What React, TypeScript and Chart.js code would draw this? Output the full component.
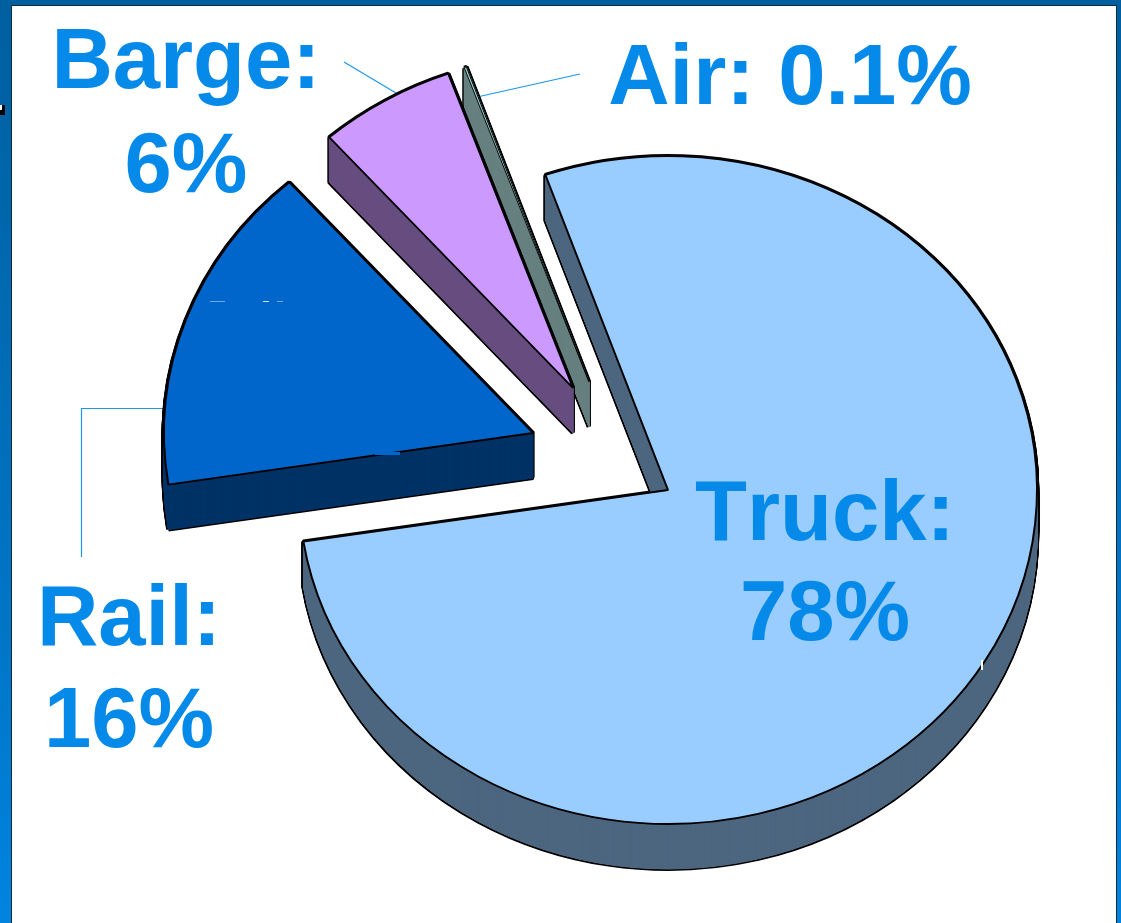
import React, { useEffect, useRef } from "react";
import { Chart, registerables } from "chart.js";

Chart.register(...registerables);

const categories = ["Truck", "Rail", "Barge", "Air"];
const shares = [78, 16, 6, 0.1];
const faceColors = ["#99ccff", "#0066cc", "#cc99ff", "#99cccc"];
const wallColors = ["#4d6680", "#003366", "#664d80", "#668080"];
const labelLines = [
  { lines: ["Truck:", "78%"], x: 825, y: [540, 640] },
  { lines: ["Rail:", "16%"], x: 129, y: [645, 747] },
  { lines: ["Barge:", "6%"], x: 186, y: [88, 192] },
  { lines: ["Air: 0.1%"], x: 790, y: [104] },
];

// layout of the exploded pie
const explodeX = [56, -79, -39, -23];
const explodeY = [30, -27, -72, -78];
const faceBorder = [2, 2, 2, 1];
const drawOrder = [3, 2, 1, 0];
const SQUASH = 0.905;
const DEPTH = 45;
const RADIUS = 369;
const leaders = [
  [[344, 62], [401, 96]],
  [[580, 74], [477, 97]],
  [[166, 408.5], [81.5, 408.5], [81.5, 557]],
];
// small blemishes of the source image: x, y, w, h, colour
const blemishes: [number, number, number, number, string][] = [
  [210, 301, 15, 1, "#6aa8ea"],
  [263, 301, 6, 1, "#cfe4fa"],
  [277, 301, 6, 1, "#6aa8ea"],
  [375, 452, 25, 3, "#0066cc"],
  [981, 660, 2, 10, "#ffffff"],
];

const pie3d = {
  id: "pie3d",
  beforeDraw(chart: any) {
    const { ctx, width, height } = chart;
    ctx.save();
    const g = ctx.createLinearGradient(0, 0, 0, height);
    g.addColorStop(0, "#005f9f");
    g.addColorStop(0.3, "#0069b0");
    g.addColorStop(0.7, "#0076c8");
    g.addColorStop(1, "#0084e0");
    ctx.fillStyle = g;
    ctx.fillRect(0, 0, width, height);
    ctx.fillStyle = "#12293d";
    ctx.fillRect(11, 5, 1106, height);
    ctx.fillStyle = "#ffffff";
    ctx.fillRect(12, 6, 1104, height);
    ctx.fillStyle = "#000000";
    ctx.fillRect(0, 105, 5, 10);
    ctx.fillStyle = "#ffffff";
    ctx.fillRect(0, 105, 2, 5);
    ctx.strokeStyle = "#1a98ee";
    ctx.lineWidth = 1.2;
    for (const pts of leaders) {
      ctx.beginPath();
      pts.forEach((p, i) => (i ? ctx.lineTo(p[0], p[1]) : ctx.moveTo(p[0], p[1])));
      ctx.stroke();
    }
    ctx.restore();
  },
  beforeDatasetDraw(chart: any) {
    const { ctx } = chart;
    const meta = chart.getDatasetMeta(0);
    const paint = (i: number, lift: number, fill: string, stroke: string, bw: number) => {
      const el = meta.data[i];
      const orig = el.options;
      const o = Object.create(orig);
      Object.defineProperties(o, {
        backgroundColor: { value: fill },
        borderColor: { value: stroke },
        borderWidth: { value: bw },
      });
      el.options = o;
      ctx.save();
      ctx.translate(el.x + explodeX[i], el.y + explodeY[i] + lift);
      ctx.scale(1, SQUASH);
      ctx.translate(-el.x, -el.y);
      el.draw(ctx);
      ctx.restore();
      el.options = orig;
    };
    for (const i of drawOrder) {
      for (let d = DEPTH; d >= 0; d -= 1) paint(i, d, wallColors[i], "#000000", 4.5);
      for (let d = DEPTH; d >= 0; d -= 0.25) paint(i, d, wallColors[i], wallColors[i], 1);
      paint(i, 0, faceColors[i], "#000000", faceBorder[i]);
    }
    return false;
  },
  afterDraw(chart: any) {
    const { ctx } = chart;
    ctx.save();
    for (const [x, y, w, h, c] of blemishes) {
      ctx.fillStyle = c;
      ctx.fillRect(x, y, w, h);
    }
    ctx.fillStyle = "#058aea";
    ctx.font = 'bold 85px "Liberation Sans", Arial, sans-serif';
    ctx.fontKerning = "none";
    ctx.textAlign = "center";
    ctx.textBaseline = "alphabetic";
    for (const l of labelLines) {
      l.lines.forEach((t, i) => ctx.fillText(t, l.x, l.y[i]));
    }
    ctx.restore();
  },
};

export default function App() {
  const ref = useRef<HTMLCanvasElement>(null);
  useEffect(() => {
    document.body.style.margin = "0";
    const chart = new Chart(ref.current as any, {
      type: "pie",
      data: {
        labels: categories,
        datasets: [{ data: shares, backgroundColor: faceColors, borderColor: "#000000", borderWidth: 2 }],
      },
      options: {
        responsive: false,
        animation: false,
        radius: RADIUS,
        rotation: -19.4,
        layout: { padding: { left: 242, right: 139, top: 90, bottom: 93 } },
        plugins: { legend: { display: false }, tooltip: { enabled: false }, title: { display: false } },
      } as any,
      plugins: [pie3d as any],
    });
    return () => chart.destroy();
  }, []);
  return (
    <div style={{ position: "relative", width: 1121, height: 923, overflow: "hidden" }}>
      <canvas ref={ref} width={1121} height={923} style={{ display: "block" }} />
    </div>
  );
}
